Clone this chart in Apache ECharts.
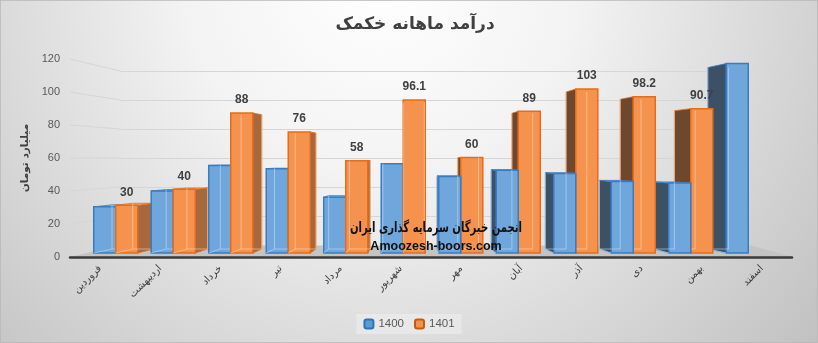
<!DOCTYPE html>
<html><head><meta charset="utf-8">
<script src="https://cdn.jsdelivr.net/npm/echarts@6/dist/echarts.min.js"></script>
<style>html,body{margin:0;padding:0;background:#fff}#c{width:818px;height:343px}</style>
</head><body><div id="c"></div>
<script>
const categories = ['فروردین','اردیبهشت','خرداد','تیر','مرداد','شهریور','مهر','آبان','آذر','دی','بهمن','اسفند'];
const values1400 = [29, 39, 55, 53, 35, 56, 48, 52, 50, 45, 44, 119];
const values1401 = [30, 40, 88, 76, 58, 96.1, 60, 89, 103, 98.2, 90.7, null];
const yTicks = [0, 20, 40, 60, 80, 100, 120];
const titleText = 'درآمد ماهانه خکمک';
const yName = 'میلیارد تومان';
const seriesNames = ['1400', '1401'];
const watermark1 = 'انجمن خبرگان سرمایه گذاری ایران';
const watermark2 = 'Amoozesh-boors.com';

const VPX = 409, VPY = 158, KX = 0.058, KY = 0.042;
const styles = [
  {front:'#6fa6dc', stroke:'#3a7cc0', sideR:'#4d6e8e', sideL:'#3c5166', top:'#8cbbe6', inner:'rgba(200,225,250,0.55)'},
  {front:'#f5924e', stroke:'#e36d1c', sideR:'#a6683c', sideL:'#6e472f', top:'#f8b07e', inner:'rgba(255,220,190,0.55)'}
];
function back(x, y){ return [x + (VPX - x) * KX, y + (VPY - y) * KY]; }

function makeRender(si){
  return function(params, api){
    const idx = api.value(0), v = api.value(1);
    if (v === null || v === undefined || isNaN(v)) return;
    const c = api.coord([idx, v]);
    const b = api.coord([idx, 0]);
    const band = api.size([1, 0])[0];
    const w = band * 0.383;
    const cx = c[0] + (si === 0 ? -w / 2 : w / 2);
    const x0 = cx - w / 2, x1 = cx + w / 2, yT = c[1], yB = b[1];
    const st = styles[si];
    const base = -Math.abs(cx - VPX) * 10;
    const ch = [];
    if (x1 < VPX) {
      ch.push({type:'polygon', z2: base, shape:{points:[[x1,yT], back(x1,yT), back(x1,yB), [x1,yB]]}, style:{fill: st.sideR, stroke: st.stroke, lineWidth: 0.8}});
    } else if (x0 > VPX) {
      ch.push({type:'polygon', z2: base, shape:{points:[[x0,yT], back(x0,yT), back(x0,yB), [x0,yB]]}, style:{fill: st.sideL, stroke: st.stroke, lineWidth: 0.8}});
    }
    if (yT > VPY) {
      ch.push({type:'polygon', z2: base + 1, shape:{points:[[x0,yT],[x1,yT], back(x1,yT), back(x0,yT)]}, style:{fill: st.top, stroke: st.stroke, lineWidth: 0.8}});
    }
    ch.push({type:'rect', z2: base + 2, shape:{x:x0, y:yT, width:x1-x0, height:yB-yT}, style:{fill: st.front, stroke: st.stroke, lineWidth: 1.5}});
    const bt0 = back(x0, yT), bt1 = back(x1, yT), bb0 = back(x0, yB), bb1 = back(x1, yB);
    ch.push({type:'polyline', z2: base + 3, shape:{points:[bt0, bb0, bb1, bt1]}, style:{fill:null, stroke: st.inner, lineWidth: 1}});
    ch.push({type:'line', z2: base + 3, shape:{x1:x0, y1:yB, x2:bb0[0], y2:bb0[1]}, style:{stroke: st.inner, lineWidth: 1}});
    if (si === 1) {
      ch.push({type:'text', z2: 5000, style:{text: String(values1401[idx]), x: cx, y: yT - 13, align:'center', verticalAlign:'middle', fill:'#404040', font:'bold 12px "Liberation Sans", Arial, sans-serif'}});
    }
    return {type:'group', children: ch};
  };
}

const chart = echarts.init(document.getElementById('c'), null, {renderer:'canvas'});
const option = {
  animation: false,
  title: {text: titleText, left: 410, top: 11, textAlign: 'center', textStyle:{fontFamily:'"DejaVu Sans", sans-serif', fontWeight:'bold', fontSize: 17, color:'#404040'}},
  legend: {data: seriesNames, left: 'center', top: 314, itemWidth: 9, itemHeight: 9, itemGap: 10, padding:[4,7], backgroundColor:'rgba(255,255,255,0.3)', textStyle:{fontSize: 11.5, color:'#595959', fontFamily:'"Liberation Sans", Arial, sans-serif'}},
  grid: [
    {left: 70, right: 26, top: 59, bottom: 86},
    {left: 87, right: 41, top: 62, bottom: 90},
    {left: 120, right: 68, top: 71, bottom: 98}
  ],
  xAxis: [
    {gridIndex: 0, type:'category', data: categories, axisLine:{lineStyle:{color:'#3a3a3a', width: 2.5}}, axisTick:{show:false}, axisLabel:{rotate: 45, margin: 10, fontSize: 10, color:'#404040', fontFamily:'"DejaVu Sans", sans-serif', interval: 0}},
    {gridIndex: 1, type:'category', data: categories, show: false},
    {gridIndex: 2, type:'category', data: categories, show: false}
  ],
  yAxis: [
    {gridIndex: 0, type:'value', min: 0, max: 120, interval: 20, name: yName, nameLocation:'middle', nameGap: 28, nameTextStyle:{fontFamily:'"DejaVu Sans", sans-serif', fontWeight:'bold', fontSize: 10.5, color:'#404040'}, axisLine:{show:false}, axisTick:{show:false}, splitLine:{show:false}, axisLabel:{margin: 10, fontSize: 11, color:'#595959', fontFamily:'"Liberation Sans", Arial, sans-serif'}},
    {gridIndex: 1, type:'value', min: 0, max: 120, interval: 20, show: false, splitLine:{show:false}},
    {gridIndex: 2, type:'value', min: 0, max: 120, interval: 20, axisLabel:{show:false}, axisLine:{show:false}, axisTick:{show:false}, splitLine:{show:true, lineStyle:{color:'#d6d6d6', width: 1.2}}}
  ],
  series: [
    {name: seriesNames[0], type:'custom', xAxisIndex: 1, yAxisIndex: 1, itemStyle:{color:'#5b9bd5', borderColor:'#2e75b6', borderWidth: 1}, renderItem: makeRender(0), data: values1400.map((v, i) => [i, v])},
    {name: seriesNames[1], type:'custom', xAxisIndex: 1, yAxisIndex: 1, itemStyle:{color:'#f4914a', borderColor:'#c55a11', borderWidth: 1}, renderItem: makeRender(1), data: values1401.map((v, i) => [i, v])}
  ],
  graphic: []
};
chart.setOption(option);

// decorative walls / floor / watermark
const g = [];
g.push({type:'rect', z: -100, shape:{x:0, y:0, width:818, height:343}, style:{fill: new echarts.graphic.RadialGradient(380, -20, 560, [{offset:0, color:'#ffffff'}, {offset:0.35, color:'#f3f3f3'}, {offset:1, color:'#c2c2c2'}], true), stroke:'#b8b8b8', lineWidth: 1.5}});
const f0 = chart.convertToPixel({yAxisIndex: 0}, 0), b0 = chart.convertToPixel({yAxisIndex: 2}, 0);
g.push({type:'polygon', z: -1, shape:{points:[[70, f0], [792, f0], [750, b0], [120, b0]]}, style:{fill:'#c4c4c4'}});
yTicks.forEach(t => {
  if (t === 0) return;
  const yf = chart.convertToPixel({yAxisIndex: 0}, t), yb = chart.convertToPixel({yAxisIndex: 2}, t);
  g.push({type:'line', z: -2, shape:{x1: 70, y1: yf, x2: 120, y2: yb}, style:{stroke:'#d6d6d6', lineWidth: 1.2}});
});
g.push({type:'text', z: 100, x: 436, y: 228, scaleX: 0.72, style:{text: watermark1, x: 0, y: 0, align:'center', verticalAlign:'middle', fill:'#111', font:'bold 14px "DejaVu Sans", sans-serif'}});
g.push({type:'text', z: 100, style:{text: watermark2, x: 436, y: 247, align:'center', verticalAlign:'middle', fill:'#111', font:'bold 12.5px "Liberation Sans", Arial, sans-serif'}});
chart.setOption({graphic: g});
</script></body></html>
